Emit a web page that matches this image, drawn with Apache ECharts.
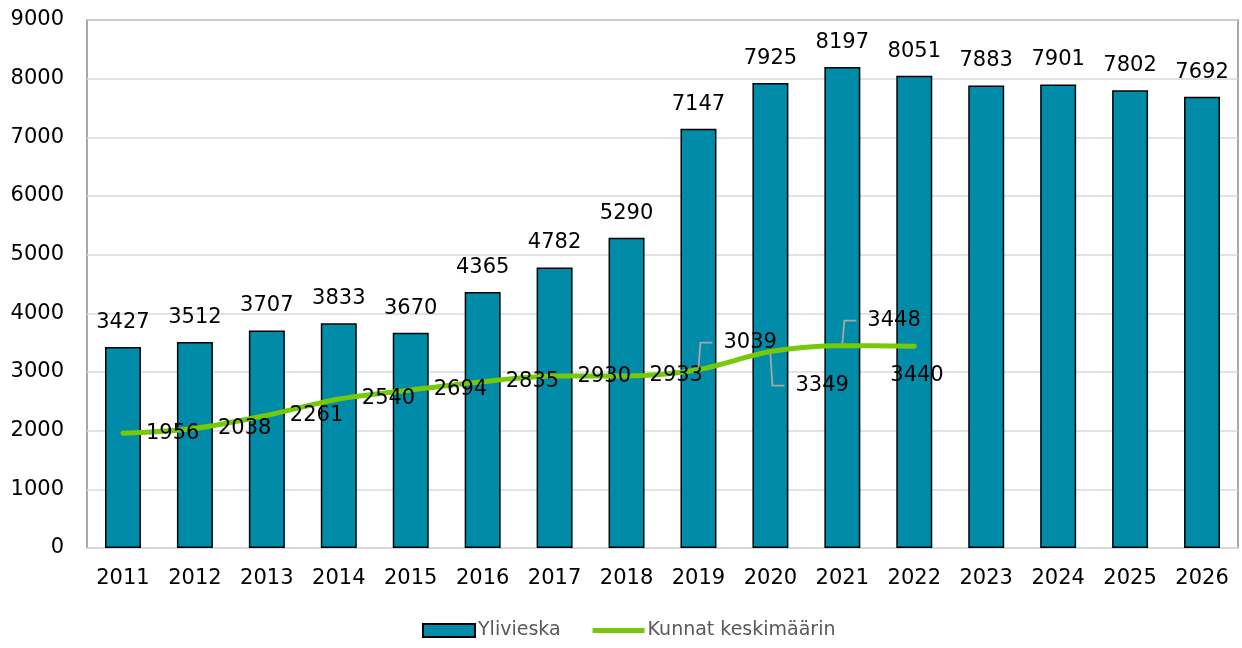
<!DOCTYPE html>
<html><head><meta charset="utf-8">
<script src="https://cdn.jsdelivr.net/npm/echarts@6/dist/echarts.min.js"></script>
<style>html,body{margin:0;padding:0;background:#fff}#c{width:1242px;height:648px}</style>
</head><body><div id="c"></div>
<script>
const years = ['2011','2012','2013','2014','2015','2016','2017','2018','2019','2020','2021','2022','2023','2024','2025','2026'];
const ylivieska = [3427,3512,3707,3833,3670,4365,4782,5290,7147,7925,8197,8051,7883,7901,7802,7692];
const kunnat = [1956,2038,2261,2540,2694,2835,2930,2933,3039,3349,3448,3440];
const yTicks = [0,1000,2000,3000,4000,5000,6000,7000,8000,9000];

const FONT = 'DejaVu Sans';
const labelShift = {8:[2,-27],9:[2,34],10:[2,-25],11:[-47,29]};
const leaderIdx = [8,9,10];

const chart = echarts.init(document.getElementById('c'));
chart.setOption({
  animation:false,
  textStyle:{fontFamily:FONT},
  grid:{left:87,right:4,top:20,bottom:100,show:true,borderColor:'#8c8c8c',borderWidth:1.5,backgroundColor:'transparent'},
  legend:{
    top:621,left:422,itemWidth:52,itemHeight:13,itemGap:32,padding:0,
    textStyle:{fontFamily:FONT,fontSize:19,color:'#595959',padding:[0,0,0,-2]},
    data:[
      {name:'Ylivieska',icon:'rect'},
      {name:'Kunnat keskimäärin',icon:'path://M0,0L100,0L100,10L0,10Z'}
    ]
  },
  xAxis:{
    type:'category',data:years,
    axisLine:{lineStyle:{color:'#d9d9d9',width:1.5}},
    axisTick:{show:false},
    axisLabel:{fontFamily:FONT,fontSize:21,color:'#000',margin:20}
  },
  yAxis:{
    type:'value',min:yTicks[0],max:yTicks[yTicks.length-1],interval:1000,
    axisLine:{show:false},axisTick:{show:false},
    splitLine:{lineStyle:{color:'#d9d9d9',width:1.5}},
    axisLabel:{fontFamily:FONT,fontSize:21,color:'#000',margin:23,formatter:v=>String(v)}
  },
  series:[
    {
      name:'Ylivieska',type:'bar',data:ylivieska,barWidth:'50%',
      itemStyle:{color:'#008ca8',borderColor:'#000',borderWidth:1.5},
      label:{show:true,position:'top',distance:14,fontFamily:FONT,fontSize:21,color:'#000'}
    },
    {
      name:'Kunnat keskimäärin',type:'line',smooth:0.3,
      data:kunnat,
      symbol:'circle',symbolSize:2,showSymbol:true,
      lineStyle:{color:'#76c80a',width:5,cap:'round'},
      itemStyle:{color:'#76c80a'},
      label:{show:true,position:'right',distance:22,fontFamily:FONT,fontSize:21,color:'#000'},
      labelLayout:function(p){const o=labelShift[p.dataIndex];return o?{dx:o[0],dy:o[1]}:{};},
      z:3
    },
    {
      name:'leaders',type:'custom',silent:true,z:4,
      encode:{x:0,y:1},
      data:leaderIdx.map(i=>[i,kunnat[i]]),
      renderItem:function(params,api){
        const i=api.value(0);
        const p=api.coord([i,api.value(1)]);
        const dy=labelShift[i][1];
        const sgn=dy<0?-1:1;
        return {type:'polyline',shape:{points:[[p[0],p[1]+sgn*2],[p[0]+2,p[1]+dy],[p[0]+14,p[1]+dy]]},
          style:{stroke:'#a6a6a6',lineWidth:1.8,fill:'none'}};
      }
    }
  ]
});
</script></body></html>
